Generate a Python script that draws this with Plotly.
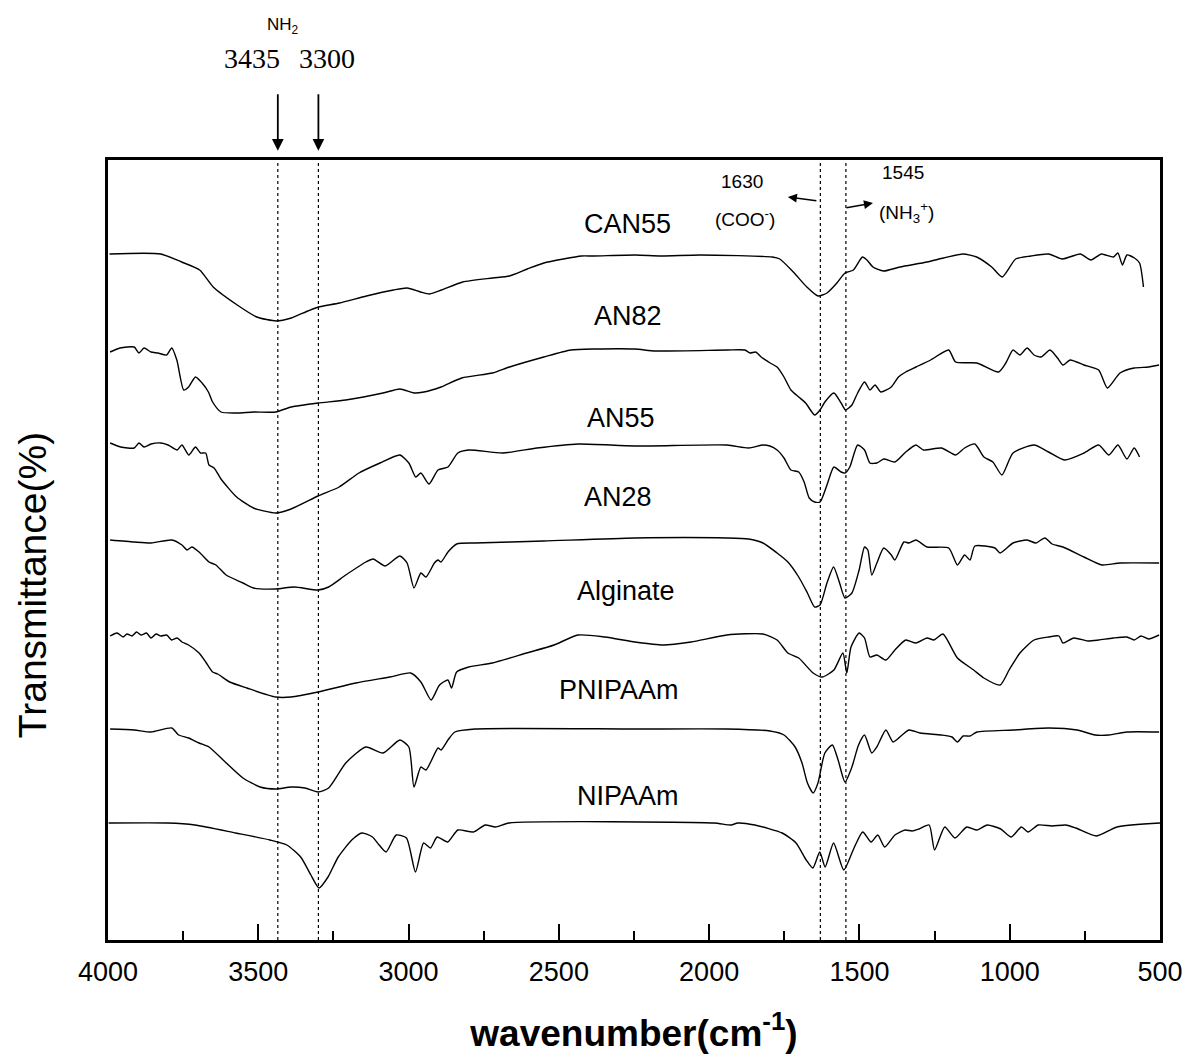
import plotly.graph_objects as go

# FTIR spectra, (wavenumber cm-1, transmittance with vertical offset) pairs
can55 = [(3995, 68.6), (3825, 68.6), (3755, 67.8), (3695, 67.0), (3650, 65.3), (3570, 63.5),
         (3505, 62.3), (3440, 61.9), (3390, 62.2), (3335, 62.9), (3300, 63.3), (3230, 63.7),
         (3140, 64.4), (3050, 65.0), (3005, 65.2), (2960, 64.8), (2930, 64.6), (2890, 65.0),
         (2820, 65.8), (2720, 66.2), (2665, 66.4), (2605, 67.1), (2550, 67.7), (2485, 68.1),
         (2425, 68.4), (2385, 68.4), (2245, 68.5), (2160, 68.4), (2030, 68.5), (1790, 68.3),
         (1765, 68.1), (1720, 66.8), (1675, 65.3), (1638, 64.4), (1608, 64.7), (1575, 65.7),
         (1548, 66.7), (1520, 67.0), (1490, 68.3), (1475, 68.0), (1455, 67.3), (1420, 66.9),
         (1365, 67.3), (1275, 67.8), (1220, 68.2), (1155, 68.6), (1110, 68.3), (1060, 67.3),
         (1025, 66.3), (980, 68.1), (930, 68.4), (870, 68.6), (825, 68.1), (765, 68.6),
         (730, 68.0), (695, 68.6), (655, 68.3), (640, 68.7), (625, 67.5), (610, 68.5),
         (585, 68.2), (568, 67.7), (555, 65.3)]

an82 = [(3993, 58.8), (3960, 59.2), (3913, 59.3), (3897, 58.7), (3880, 59.2), (3857, 58.8),
        (3834, 58.7), (3805, 58.5), (3788, 59.2), (3771, 58.0), (3748, 55.0), (3732, 55.3),
        (3709, 56.3), (3687, 55.7), (3666, 54.8), (3652, 53.8), (3624, 52.8), (3572, 52.7),
        (3516, 52.8), (3442, 52.8), (3391, 53.3), (3301, 53.7), (3209, 54.0), (3085, 54.7),
        (3029, 55.1), (2982, 54.7), (2949, 54.8), (2892, 55.3), (2823, 56.2), (2721, 56.7),
        (2664, 57.3), (2550, 58.3), (2460, 59.0), (2380, 59.1), (2247, 59.1), (2178, 58.9),
        (1941, 59.0), (1881, 59.0), (1864, 58.7), (1845, 58.8), (1827, 58.3), (1797, 57.7),
        (1774, 57.3), (1751, 56.3), (1728, 55.0), (1702, 54.3), (1679, 53.7), (1649, 52.5),
        (1631, 53.0), (1615, 53.8), (1585, 54.7), (1561, 53.7), (1546, 53.0), (1525, 53.5),
        (1506, 54.7), (1483, 55.8), (1465, 55.0), (1448, 55.5), (1429, 54.8), (1394, 55.3),
        (1370, 56.3), (1346, 56.8), (1312, 57.3), (1263, 58.0), (1203, 59.0), (1180, 57.8),
        (1109, 57.7), (1037, 56.8), (1013, 57.7), (989, 59.0), (966, 58.5), (942, 59.2),
        (919, 58.5), (896, 58.3), (866, 59.0), (841, 58.2), (823, 57.5), (799, 58.0),
        (753, 57.5), (704, 57.0), (675, 55.2), (633, 56.7), (586, 57.2), (538, 57.3),
        (503, 57.5)]

an55 = [(3993, 49.7), (3958, 49.3), (3913, 49.2), (3897, 49.7), (3880, 49.3), (3857, 49.6),
        (3824, 49.7), (3800, 49.5), (3770, 49.0), (3754, 49.5), (3731, 48.5), (3709, 49.3),
        (3692, 48.7), (3675, 48.7), (3664, 47.5), (3647, 47.2), (3624, 46.1), (3572, 44.3),
        (3516, 43.2), (3442, 42.7), (3391, 43.1), (3301, 44.4), (3231, 45.3), (3165, 46.7),
        (3095, 47.7), (3029, 48.5), (2999, 47.7), (2976, 46.3), (2959, 46.7), (2932, 45.6),
        (2902, 47.0), (2869, 47.3), (2836, 48.7), (2800, 49.0), (2687, 48.7), (2573, 49.2),
        (2436, 49.6), (2247, 49.4), (1941, 49.5), (1869, 49.2), (1821, 49.5), (1798, 49.4),
        (1774, 49.0), (1751, 48.2), (1728, 47.0), (1702, 46.8), (1684, 45.8), (1667, 44.2),
        (1649, 43.8), (1631, 43.8), (1608, 45.5), (1585, 47.3), (1561, 46.8), (1548, 46.7),
        (1532, 47.3), (1506, 49.5), (1483, 49.0), (1465, 47.7), (1442, 47.7), (1419, 48.1),
        (1382, 47.8), (1346, 48.8), (1312, 49.5), (1287, 49.0), (1227, 49.2), (1180, 48.5),
        (1150, 49.2), (1116, 49.6), (1086, 48.3), (1056, 47.8), (1026, 46.5), (989, 48.7),
        (919, 49.5), (871, 48.8), (818, 48.0), (753, 48.7), (704, 49.5), (670, 48.5),
        (640, 49.5), (610, 48.1), (586, 49.2), (568, 48.3)]

an28 = [(3993, 40.0), (3913, 39.8), (3857, 39.7), (3788, 40.0), (3754, 39.5), (3737, 39.0),
        (3721, 39.3), (3697, 38.8), (3664, 37.8), (3641, 37.5), (3607, 36.5), (3551, 35.7),
        (3516, 35.2), (3442, 35.1), (3380, 35.3), (3301, 35.0), (3266, 35.3), (3209, 36.5),
        (3142, 37.8), (3118, 38.1), (3078, 37.4), (3029, 38.4), (3005, 37.7), (2982, 35.2),
        (2959, 36.7), (2942, 36.3), (2914, 37.7), (2902, 38.0), (2892, 37.8), (2869, 38.8),
        (2840, 39.6), (2779, 39.7), (2550, 39.9), (2247, 40.2), (1941, 40.2), (1869, 40.1),
        (1821, 39.7), (1774, 38.7), (1738, 37.8), (1702, 36.3), (1673, 34.7), (1649, 33.3),
        (1631, 33.5), (1608, 35.7), (1586, 37.3), (1566, 35.7), (1548, 34.2), (1525, 34.7),
        (1501, 37.0), (1483, 39.3), (1472, 39.0), (1459, 36.5), (1442, 37.7), (1419, 39.2),
        (1394, 38.5), (1382, 38.0), (1352, 39.8), (1335, 39.7), (1312, 40.0), (1275, 39.3),
        (1203, 39.2), (1174, 37.5), (1150, 38.5), (1132, 38.0), (1116, 39.4), (1049, 39.2),
        (1032, 38.7), (989, 39.7), (942, 40.0), (913, 39.7), (883, 40.2), (859, 39.6),
        (823, 39.3), (753, 38.3), (693, 37.5), (633, 37.7), (503, 37.7)]

alginate = [(3993, 30.4), (3970, 30.7), (3950, 30.3), (3937, 30.6), (3920, 30.4), (3905, 30.8),
            (3890, 30.5), (3872, 30.7), (3857, 30.2), (3840, 30.6), (3824, 30.4), (3805, 30.5),
            (3788, 30.0), (3770, 30.2), (3754, 29.8), (3732, 29.5), (3697, 28.7), (3675, 27.8),
            (3652, 26.8), (3635, 26.6), (3595, 25.8), (3538, 25.2), (3442, 24.3), (3391, 24.3),
            (3301, 24.8), (3175, 25.7), (3062, 26.3), (2993, 26.7), (2959, 25.8), (2925, 24.0),
            (2897, 25.5), (2869, 26.0), (2857, 25.2), (2840, 26.8), (2800, 27.3), (2721, 27.7),
            (2607, 28.7), (2516, 29.5), (2436, 30.5), (2347, 30.3), (2247, 29.8), (2153, 29.5),
            (2060, 29.8), (1941, 30.5), (1821, 30.6), (1774, 30.0), (1738, 28.7), (1702, 28.2),
            (1654, 26.7), (1624, 26.3), (1585, 27.0), (1555, 28.7), (1542, 26.7), (1528, 29.3),
            (1501, 30.7), (1483, 30.2), (1465, 28.3), (1442, 28.5), (1412, 28.0), (1382, 29.0),
            (1346, 30.0), (1312, 29.7), (1275, 30.2), (1252, 30.0), (1222, 30.6), (1174, 28.2),
            (1120, 27.0), (1086, 26.2), (1032, 25.5), (1002, 27.0), (966, 28.7), (919, 30.0),
            (871, 30.3), (836, 30.4), (823, 29.7), (787, 30.2), (740, 29.9), (704, 30.0),
            (656, 30.2), (610, 30.3), (586, 30.0), (563, 30.4), (538, 30.1), (503, 30.5)]

pnipaam = [(3993, 21.1), (3913, 21.0), (3857, 20.8), (3788, 21.2), (3765, 20.5), (3732, 20.2),
           (3697, 19.7), (3664, 19.3), (3617, 18.0), (3551, 16.2), (3494, 15.3), (3442, 15.1),
           (3391, 15.3), (3345, 15.2), (3301, 14.8), (3266, 15.2), (3209, 17.7), (3142, 19.3),
           (3085, 18.7), (3029, 20.0), (2999, 19.3), (2982, 15.3), (2959, 17.3), (2942, 17.0),
           (2902, 19.2), (2892, 19.0), (2869, 20.0), (2846, 20.8), (2779, 21.1), (2247, 21.1),
           (1941, 21.1), (1798, 20.9), (1751, 20.5), (1714, 19.3), (1691, 17.7), (1673, 15.7),
           (1654, 14.7), (1638, 15.7), (1615, 18.7), (1590, 19.5), (1571, 18.0), (1548, 15.8),
           (1525, 17.3), (1503, 19.5), (1483, 20.5), (1459, 18.7), (1442, 19.3), (1412, 21.0),
           (1388, 19.8), (1358, 20.5), (1335, 21.0), (1298, 20.7), (1227, 20.5), (1192, 20.3),
           (1174, 19.8), (1155, 20.4), (1132, 20.4), (1109, 20.8), (989, 21.0), (871, 21.2),
           (776, 21.0), (716, 20.5), (670, 20.5), (610, 20.8), (503, 20.8)]

nipaam = [(3998, 11.7), (3802, 11.7), (3711, 11.5), (3575, 10.7), (3461, 10.0), (3405, 9.5),
          (3359, 8.3), (3325, 6.5), (3298, 5.2), (3268, 6.3), (3234, 8.3), (3189, 10.0),
          (3155, 10.7), (3120, 10.3), (3098, 9.5), (3075, 8.8), (3041, 10.5), (3007, 10.2),
          (2977, 6.8), (2950, 9.7), (2927, 9.2), (2905, 10.3), (2870, 9.8), (2836, 11.0),
          (2784, 10.8), (2745, 11.5), (2711, 11.3), (2666, 11.7), (1984, 11.7), (1927, 11.5),
          (1905, 11.7), (1848, 11.5), (1757, 10.7), (1711, 9.7), (1677, 8.0), (1655, 7.2),
          (1632, 8.8), (1614, 7.3), (1586, 9.7), (1552, 7.0), (1518, 9.2), (1489, 10.8),
          (1461, 9.8), (1439, 10.5), (1416, 9.3), (1382, 10.5), (1348, 11.0), (1325, 10.9),
          (1302, 11.1), (1268, 11.5), (1250, 9.0), (1216, 11.3), (1182, 10.2), (1143, 11.3),
          (1109, 11.0), (1075, 11.5), (1030, 11.1), (995, 10.3), (961, 11.3), (939, 10.8),
          (905, 11.5), (859, 11.4), (814, 11.5), (780, 11.2), (711, 10.4), (643, 11.3),
          (500, 11.7)]

spectra = [("CAN55", can55), ("AN82", an82), ("AN55", an55), ("AN28", an28),
           ("Alginate", alginate), ("PNIPAAm", pnipaam), ("NIPAAm", nipaam)]

# label anchor points (wavenumber, offset transmittance)
label_x = [2273, 2270, 2293, 2303, 2277, 2300, 2270]
label_y = [71.6, 62.4, 52.2, 44.3, 34.9, 25.0, 14.4]

# reference band positions (cm-1)
bands = [3435, 3300, 1630, 1545]

x_ticks = [4000, 3500, 3000, 2500, 2000, 1500, 1000, 500]
x_minor = [3750, 3250, 2750, 2250, 1750, 1250, 750]

SANS = "Liberation Sans, Arial, sans-serif"
SERIF = "Liberation Serif, Times New Roman, serif"

fig = go.Figure()
for name, pts in spectra:
    wn, tr = zip(*pts)
    fig.add_trace(go.Scatter(x=list(wn), y=list(tr), mode="lines", name=name,
                             line=dict(color="black", width=1.4, shape="spline", smoothing=0.6),
                             showlegend=False, hoverinfo="skip"))

for b in bands:
    fig.add_shape(type="line", xref="x", yref="paper", x0=b, x1=b, y0=0, y1=1,
                  line=dict(color="black", width=1.2, dash="dot"))


def note(x, y, text, size, family=SANS, xref="x"):
    return dict(x=x, y=y, xref=xref, yref="paper", text=text, showarrow=False,
                xanchor="center", yanchor="middle",
                font=dict(family=family, size=size, color="black"))


annotations = []
for (name, _), lx, ly in zip(spectra, label_x, label_y):
    annotations.append(dict(x=lx, y=ly, xref="x", yref="y", text=name, showarrow=False,
                            xanchor="center", yanchor="middle",
                            font=dict(family=SANS, size=27, color="black")))

arrow_style = dict(text="", showarrow=True, arrowhead=2, arrowcolor="black")
annotations += [
    note(3418, 1.1718, "NH<sub>2</sub>", 17),
    note(3521, 1.1295, "3435", 28, SERIF),
    note(3271, 1.1295, "3300", 28, SERIF),
    dict(x=3435, y=1.012, xref="x", yref="paper", ax=0, ay=-58,
         arrowsize=1.3, arrowwidth=1.8, **arrow_style),
    dict(x=3300, y=1.012, xref="x", yref="paper", ax=0, ay=-58,
         arrowsize=1.3, arrowwidth=1.8, **arrow_style),
    note(1891, 0.973, "1630", 19),
    note(1881, 0.9256, "(COO<sup>-</sup>)", 19),
    note(1355, 0.9846, "1545", 19),
    note(1342, 0.9333, "(NH<sub>3</sub><sup>+</sup>)", 19),
    dict(x=1738, y=0.9526, xref="x", yref="paper", ax=30, ay=4,
         arrowsize=1.2, arrowwidth=1.5, **arrow_style),
    dict(x=1455, y=0.9449, xref="x", yref="paper", ax=-28, ay=5,
         arrowsize=1.2, arrowwidth=1.5, **arrow_style),
    dict(x=-0.0722, y=0.455, xref="paper", yref="paper", text="Transmittance(%)",
         textangle=-90, showarrow=False, xanchor="center", yanchor="middle",
         font=dict(family=SANS, size=39, color="black")),
]

fig.update_layout(
    width=1186, height=1062,
    margin=dict(l=108, r=26, t=160, b=122, autoexpand=False),
    paper_bgcolor="white", plot_bgcolor="white",
    annotations=annotations,
    xaxis=dict(range=[4000, 500], tickvals=x_ticks, ticktext=[str(t) for t in x_ticks],
               ticks="inside", ticklen=16, tickwidth=1.5, tickcolor="black",
               minor=dict(tickvals=x_minor, ticks="inside", ticklen=9, tickwidth=1.5,
                          tickcolor="black"),
               showline=True, mirror=True, linewidth=2.5, linecolor="black",
               showgrid=False, zeroline=False, ticklabelstandoff=6, automargin=False,
               tickfont=dict(family=SANS, size=27, color="black"),
               title=dict(text="<b>wavenumber(cm<sup>-1</sup>)</b>", standoff=34,
                          font=dict(family=SANS, size=37, color="black"))),
    yaxis=dict(range=[0, 78], showticklabels=False, ticks="", automargin=False,
               showline=True, mirror=True, linewidth=2.5, linecolor="black",
               showgrid=False, zeroline=False),
)

fig.write_html("out.html")
